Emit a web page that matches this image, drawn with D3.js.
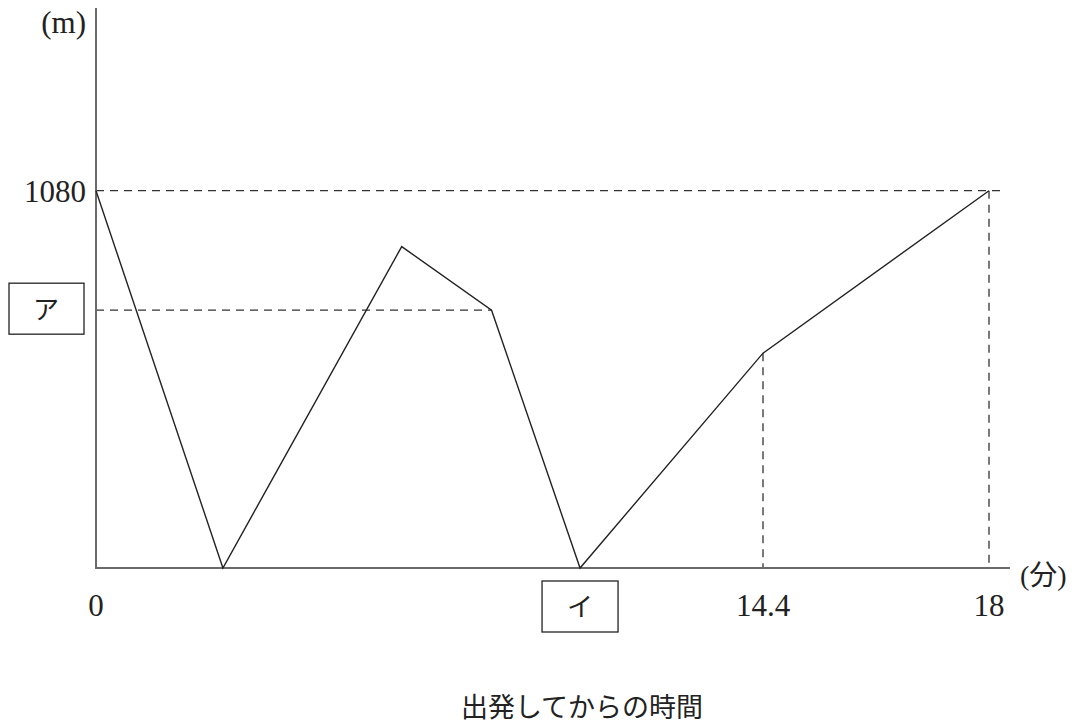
<!DOCTYPE html>
<html lang="ja">
<head>
    <meta charset="UTF-8">
    <title>出発してからの時間</title>
    <script src="https://d3js.org/d3.v7.min.js"></script>
    <style>
        body {
            margin: 0;
            padding: 0;
            background-color: #fff;
        }
        svg text {
            font-family: "Liberation Serif", "DejaVu Serif", "Noto Sans CJK JP", serif;
            fill: #222;
        }
        .jp {
            font-family: "Noto Sans CJK JP", sans-serif !important;
        }
    </style>
</head>
<body>
<div id="chart"></div>

<script type="text/javascript">
    // 時間（分）と距離（m）
    const times = [0, 2.74, 6.6, 8.54, 10.45, 14.4, 18];
    const distances = [1080, 0, 920, 738, 0, 615, 1080];

    // 目盛り
    const xTickValues = [0, 10.45, 14.4, 18];
    const xTickLabels = ["0", "イ", "14.4", "18"];
    const yTickValues = [1080, 738];
    const yTickLabels = ["1080", "ア"];

    const data = times.map((t, i) => ({ t: t, d: distances[i] }));

    const width = 1080, height = 726;

    const svg = d3.select("#chart")
        .append("svg")
        .attr("width", width)
        .attr("height", height);

    // the figure is not drawn to scale: 0-14.4 is wider per minute than 14.4-18
    const x = d3.scaleLinear()
        .domain([0, 14.4, 18])
        .range([96, 763, 989]);

    const y = d3.scaleLinear()
        .domain([0, 1080])
        .range([568, 190.7]);

    const axisColor = "#6a6a6a";

    // dashed guide lines
    const guides = svg.append("g")
        .attr("stroke", "#333")
        .attr("stroke-width", 1.3)
        .attr("stroke-dasharray", "8,6");

    // horizontal: 1080 to the end, ア to its point
    guides.append("line")
        .attr("x1", x(0)).attr("x2", x(18) + 16)
        .attr("y1", y(1080)).attr("y2", y(1080));
    guides.append("line")
        .attr("x1", x(0)).attr("x2", x(times[3]))
        .attr("y1", y(distances[3])).attr("y2", y(distances[3]));

    // vertical: 14.4 and 18
    [5, 6].forEach(i => {
        guides.append("line")
            .attr("x1", x(times[i])).attr("x2", x(times[i]))
            .attr("y1", y(distances[i])).attr("y2", y(0));
    });

    // axes
    svg.append("line")
        .attr("x1", x(0)).attr("x2", x(0))
        .attr("y1", 8).attr("y2", y(0))
        .attr("stroke", axisColor)
        .attr("stroke-width", 2);

    svg.append("line")
        .attr("x1", x(0) - 1).attr("x2", 1010)
        .attr("y1", y(0)).attr("y2", y(0))
        .attr("stroke", axisColor)
        .attr("stroke-width", 2);

    // the graph
    const line = d3.line()
        .x(d => x(d.t))
        .y(d => y(d.d));

    svg.append("path")
        .datum(data)
        .attr("d", line)
        .attr("fill", "none")
        .attr("stroke", "#222")
        .attr("stroke-width", 1.4)
        .attr("stroke-linejoin", "miter");

    // x tick labels
    xTickLabels.forEach((lab, i) => {
        const cx = x(xTickValues[i]);
        if (lab === "イ") {
            svg.append("rect")
                .attr("x", cx - 38).attr("y", 581)
                .attr("width", 76).attr("height", 51)
                .attr("fill", "none")
                .attr("stroke", "#222")
                .attr("stroke-width", 1.3);
            svg.append("text")
                .attr("class", "jp")
                .attr("x", cx).attr("y", 616)
                .attr("text-anchor", "middle")
                .attr("font-size", 26)
                .text(lab);
        } else {
            svg.append("text")
                .attr("x", cx).attr("y", 616)
                .attr("text-anchor", "middle")
                .attr("font-size", 31)
                .text(lab);
        }
    });

    // y tick labels
    yTickLabels.forEach((lab, i) => {
        const cy = y(yTickValues[i]);
        if (lab === "ア") {
            svg.append("rect")
                .attr("x", 9).attr("y", cy - 27)
                .attr("width", 75).attr("height", 51)
                .attr("fill", "none")
                .attr("stroke", "#222")
                .attr("stroke-width", 1.3);
            svg.append("text")
                .attr("class", "jp")
                .attr("x", 46).attr("y", cy + 9)
                .attr("text-anchor", "middle")
                .attr("font-size", 26)
                .text(lab);
        } else {
            svg.append("text")
                .attr("x", 86).attr("y", cy + 11)
                .attr("text-anchor", "end")
                .attr("font-size", 31)
                .text(lab);
        }
    });

    // units
    svg.append("text")
        .attr("x", 86).attr("y", 33)
        .attr("text-anchor", "end")
        .attr("font-size", 31)
        .text("(m)");

    svg.append("text")
        .attr("x", 1020).attr("y", 585)
        .attr("font-size", 28)
        .text("(分)");

    // axis title
    svg.append("text")
        .attr("class", "jp")
        .attr("x", 582).attr("y", 717)
        .attr("text-anchor", "middle")
        .attr("font-size", 27)
        .text("出発してからの時間");
</script>

</body>
</html>
